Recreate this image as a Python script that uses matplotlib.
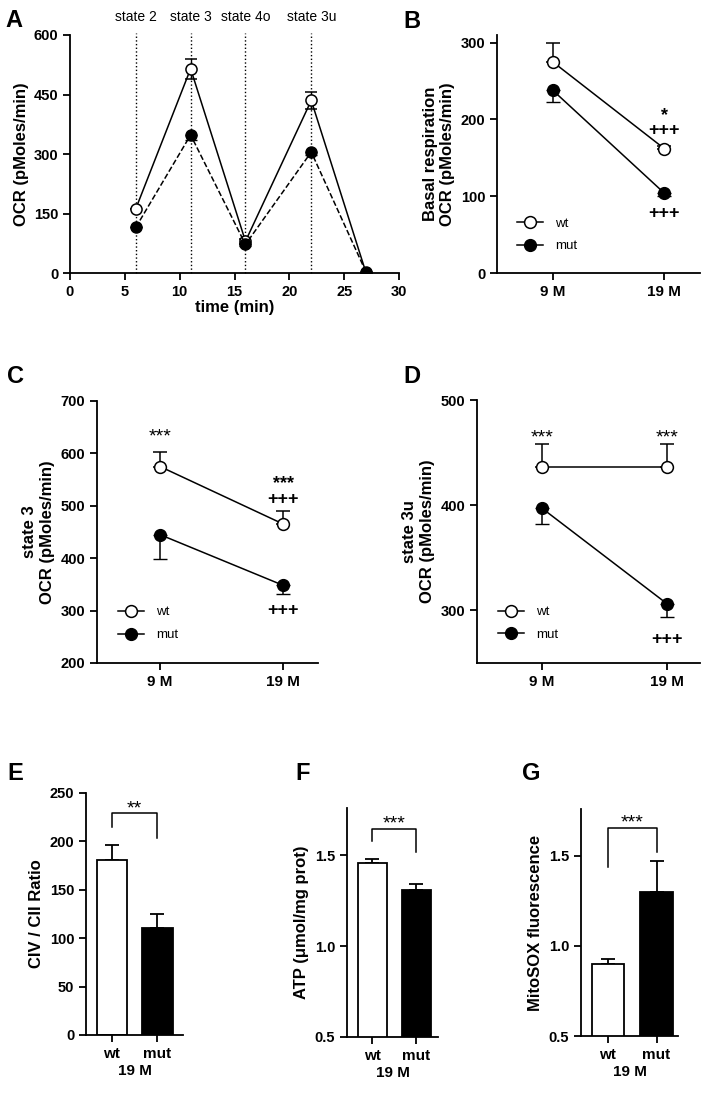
import matplotlib
matplotlib.use("Agg")
import matplotlib.pyplot as plt
import matplotlib.transforms as mtransforms

plt.rcParams['font.family'] = ['Liberation Sans', 'DejaVu Sans']
plt.rcParams['font.weight'] = 'bold'
plt.rcParams['axes.labelweight'] = 'bold'

# panel A: OCR over time
time_min = [6, 11, 16, 22, 27]
a_wt = [162, 515, 80, 435, 0]
a_wt_err = [0, 25, 6, 22, 0]
a_mut = [115, 348, 72, 305, 2]
a_mut_err = [0, 12, 5, 8, 0]
state_times = [6, 11, 16, 22]
state_labels = ['state 2', 'state 3', 'state 4o', 'state 3u']

# panels B-D: age comparison
ages = ['9 M', '19 M']
b_wt, b_wt_err = [275, 162], [24, 4]
b_mut, b_mut_err = [238, 104], [15, 4]
c_wt, c_wt_err = [575, 465], [28, 25]
c_mut, c_mut_err = [445, 348], [47, 16]
d_wt, d_wt_err = [436, 436], [22, 22]
d_mut, d_mut_err = [397, 306], [15, 12]

# panels E-G: bars at 19 M
groups = ['wt', 'mut']
e_vals, e_err = [181, 111], [15, 14]
f_vals, f_err = [1.455, 1.31], [0.025, 0.03]
g_vals, g_err = [0.90, 1.30], [0.03, 0.17]

W, H = 709, 1093
fig = plt.figure(figsize=(W / 100, H / 100), dpi=100)


def px_axes(left, top, right, bottom):
    return fig.add_axes([left / W, 1 - bottom / H, (right - left) / W, (bottom - top) / H])


def style(ax):
    for s in ['top', 'right']:
        ax.spines[s].set_visible(False)
    for s in ['left', 'bottom']:
        ax.spines[s].set_linewidth(1.3)
    ax.tick_params(width=1.3, length=5, labelsize=10.5)


def letter(x, y, s):
    fig.text(x / W, 1 - y / H, s, fontsize=17, fontweight='bold', ha='left', va='baseline')


def stars(ax, x, y, s, dy=-3.5):
    ax.annotate(s, (x, y), xytext=(0, dy), textcoords='offset points', ha='center', va='center',
                fontsize=14, fontweight='normal')


def plus(ax, x, y):
    ax.annotate('+++', (x, y), ha='center', va='center', fontsize=13, fontweight='bold')


def stacked(ax, x, y, s):
    # significance marks stacked in one text block
    ax.annotate(s, (x, y), xytext=(0, -2), textcoords='offset points', ha='center', va='center',
                fontsize=13, fontweight='bold', linespacing=0.9, multialignment='center')


# ---- A ----
ax = px_axes(70, 35, 399, 273)
style(ax)
for t in state_times:
    ax.axvline(t, ymin=0, ymax=1.01, ls=':', color='k', lw=1, clip_on=False)
trans = mtransforms.blended_transform_factory(ax.transData, ax.transAxes)
for t, lab in zip(state_times, state_labels):
    ax.text(t, 1.075, lab, transform=trans, ha='center', va='center', fontsize=10, fontweight='normal')
ax.errorbar(time_min, a_wt, yerr=a_wt_err, color='k', lw=1.1, marker='o', ms=8, mfc='white',
            mec='k', mew=1.1, capsize=4, elinewidth=1)
ax.errorbar(time_min, a_mut, yerr=[a_mut_err, [0] * 5], color='k', lw=1.1, ls='--', marker='o', ms=8,
            mfc='k', mec='k', capsize=4, elinewidth=1)
ax.set_xlim(0, 30)
ax.set_ylim(0, 600)
ax.set_xticks(range(0, 31, 5))
ax.set_yticks([0, 150, 300, 450, 600])
ax.set_xlabel('time (min)', fontsize=12, labelpad=1)
ax.set_ylabel('OCR (pMoles/min)', fontsize=12, labelpad=3)
letter(5, 27, 'A')


def age_panel(ax, wt, wt_err, mut, mut_err, ylim, yticks, ylabel, leg_anchor):
    style(ax)
    x = [0, 1]
    ax.errorbar(x, wt, yerr=[[0, 0], wt_err], color='k', lw=1.1, marker='o', ms=8.5, mfc='white',
                mec='k', mew=1.1, capsize=5, elinewidth=1.1, label='wt')
    ax.errorbar(x, mut, yerr=[mut_err, [0, 0]], color='k', lw=1.1, marker='o', ms=8.5, mfc='k',
                mec='k', capsize=5, elinewidth=1.1, label='mut')
    ax.set_xticks(x)
    ax.set_xticklabels(ages, fontsize=11)
    ax.set_ylim(*ylim)
    ax.set_yticks(yticks)
    ax.set_ylabel(ylabel, fontsize=12, linespacing=1.2)
    h, l = ax.get_legend_handles_labels()
    h = [hh[0] for hh in h]
    ax.legend(h, l, loc='center left', bbox_to_anchor=leg_anchor, frameon=False,
              handlelength=2.0, labelspacing=0.8, handletextpad=0.9,
              prop={'family': ['Liberation Sans Narrow', 'Liberation Sans'], 'size': 9.5,
                    'weight': 'normal'})
    return ax


# ---- B ----
ax = px_axes(497, 35, 700, 273)
age_panel(ax, b_wt, b_wt_err, b_mut, b_mut_err, (0, 310), [0, 100, 200, 300],
          'Basal respiration\nOCR (pMoles/min)', (0.04, 0.16))
ax.set_xlim(-0.5, 1.32)
stacked(ax, 1, 199, '*\n+++')
plus(ax, 1, 78)
letter(403, 28, 'B')

# ---- C ----
ax = px_axes(97, 401, 318, 663)
age_panel(ax, c_wt, c_wt_err, c_mut, c_mut_err, (200, 700), [200, 300, 400, 500, 600, 700],
          'state 3\nOCR (pMoles/min)', (0.04, 0.15))
ax.set_xlim(-0.51, 1.28)
stars(ax, 0, 641, '***')
stacked(ax, 1, 532, '***\n+++')
plus(ax, 1, 300)
letter(7, 383, 'C')

# ---- D ----
ax = px_axes(477, 400, 700, 663)
age_panel(ax, d_wt, d_wt_err, d_mut, d_mut_err, (250, 500), [300, 400, 500],
          'state 3u\nOCR (pMoles/min)', (0.04, 0.15))
ax.set_xlim(-0.52, 1.26)
stars(ax, 0, 469, '***')
stars(ax, 1, 469, '***')
plus(ax, 1, 272)
letter(403, 383, 'D')


def bar_panel(ax, vals, err, ylim, yticks, ylabel, bracket, sig, xlim):
    style(ax)
    x = [0, 1]
    ax.bar(x, vals, width=0.66, color=['white', 'black'], edgecolor='black', linewidth=1.3, zorder=2)
    ax.errorbar(x, vals, yerr=[[0, 0], err], fmt='none', ecolor='k', elinewidth=1.3, capsize=5,
                capthick=1.3, zorder=1)
    lo_wt, top, lo_mut = bracket
    ax.plot([0, 0, 1, 1], [lo_wt, top, top, lo_mut], color='k', lw=1.1)
    stars(ax, 0.5, top, sig, dy=3)
    ax.set_xticks(x)
    ax.set_xticklabels(groups, fontsize=11)
    ax.set_xlim(*xlim)
    ax.set_ylim(*ylim)
    ax.set_yticks(yticks)
    ax.set_ylabel(ylabel, fontsize=12)
    ax.set_xlabel('19 M', fontsize=11, labelpad=2)


# ---- E ----
ax = px_axes(86, 793, 183, 1035)
bar_panel(ax, e_vals, e_err, (0, 250), [0, 50, 100, 150, 200, 250], 'CIV / CII Ratio',
          (215, 229, 204), '**', (-0.57, 1.56))
letter(7, 780, 'E')

# ---- F ----
ax = px_axes(347, 808, 438, 1037)
bar_panel(ax, f_vals, f_err, (0.5, 1.76), [0.5, 1.0, 1.5], 'ATP (\u03bcmol/mg prot)',
          (1.577, 1.647, 1.52), '***', (-0.58, 1.49))
letter(295, 780, 'F')

# ---- G ----
ax = px_axes(581, 809, 678, 1036)
bar_panel(ax, g_vals, g_err, (0.5, 1.76), [0.5, 1.0, 1.5], 'MitoSOX fluorescence',
          (1.44, 1.657, 1.52), '***', (-0.55, 1.44))
letter(522, 780, 'G')

fig.savefig('out.png', dpi=100)
